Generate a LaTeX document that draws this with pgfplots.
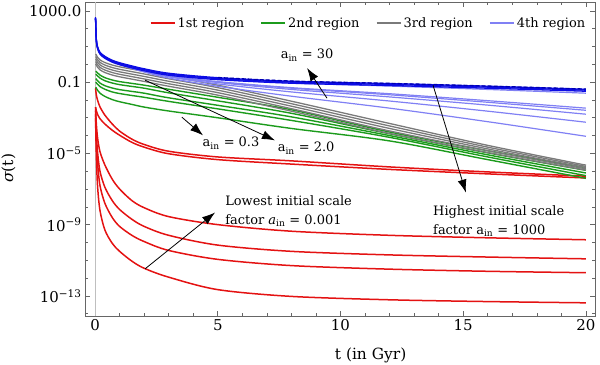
\documentclass[border=0pt]{standalone}
\usepackage{fontspec}
\setmainfont{DejaVu Serif}
\usepackage{pgfplots}
\pgfplotsset{compat=1.18}
\usetikzlibrary{arrows.meta}

\definecolor{cRed}{RGB}{228,18,18}
\definecolor{cGreen}{RGB}{28,155,28}
\definecolor{cGray}{RGB}{122,122,122}
\definecolor{cLBlue}{RGB}{128,128,244}
\definecolor{cBlue}{RGB}{12,12,228}

\begin{document}
\begin{tikzpicture}
\begin{axis}[
  name=ax, scale only axis, width=510bp, height=314bp,
  xmin=-0.41, xmax=20.37, ymin=-14.13, ymax=3.5,
  xtick={0,5,10,15,20}, xticklabels={0,5,10,15,20},
  minor xtick={1,2,3,4,6,7,8,9,11,12,13,14,16,17,18,19},
  ytick={-13,-9,-5,-1,3},
  yticklabels={10\textsuperscript{−13},10\textsuperscript{−9},10\textsuperscript{−5},0.1,1000.0},
  minor ytick={-14,-12,-11,-10,-8,-7,-6,-4,-3,-2,0,1,2},
  tick align=inside, major tick length=5bp, minor tick length=3bp,
  tick style={black!60, line width=0.6bp},
  axis line style={black!60, line width=0.8bp},
  tick label style={font=\fontsize{15}{15}\selectfont},
  xlabel={t (in Gyr)}, ylabel={\textit{σ}(t)},
  label style={font=\fontsize{15.5}{15.5}\selectfont},
  xlabel style={at={(rel axis cs:0.56,-0.124)}, anchor=center},
  ylabel style={at={(rel axis cs:-0.15,0.47)}, anchor=center},
  legend style={at={(0.985,0.957)}, anchor=north east, draw=none, fill=none,
    inner sep=0pt, font=\fontsize{13}{13}\selectfont,
    /tikz/every even column/.append style={column sep=14bp}},
  legend columns=4,
  legend image code/.code={\draw[#1,line width=2bp] (0bp,0bp) -- (24bp,0bp);},
  every axis plot/.append style={smooth, line join=round, forget plot},
]
% zero line
\addplot[black!25, line width=0.6bp, sharp plot] coordinates {(0,-14.13) (0,3.5)};

% 1st region
\addplot[cRed, line width=1.5bp] coordinates {(0.02,-1.34)(0.05,-1.7)(0.1,-2.0)(0.2,-2.39)(0.4,-2.85)(0.7,-3.35)(1,-3.75)(1.5,-4.2)(2,-4.5)(3,-4.88)(5,-5.2)(8,-5.42)(12,-5.76)(16,-6.04)(20,-6.28)};
\addplot[cRed, line width=1.5bp] coordinates {(0.02,-2.4)(0.05,-2.6)(0.1,-2.8)(0.2,-3.05)(0.4,-3.35)(0.7,-3.7)(1,-3.98)(1.5,-4.38)(2,-4.65)(3,-5.02)(5,-5.35)(8,-5.6)(12,-5.9)(16,-6.15)(20,-6.38)};
\addplot[cRed, line width=1.5bp] coordinates {(0.02,-2.4)(0.05,-3.3)(0.1,-4.1)(0.2,-4.9)(0.4,-5.65)(0.7,-6.45)(1,-7.0)(1.5,-7.65)(2,-8.05)(3,-8.55)(5,-9.0)(8,-9.37)(12,-9.6)(16,-9.74)(20,-9.85)};
\addplot[cRed, line width=1.5bp] coordinates {(0.02,-2.6)(0.05,-3.8)(0.1,-4.9)(0.2,-6.0)(0.4,-6.9)(0.7,-7.65)(1,-8.15)(1.5,-8.7)(2,-9.1)(3,-9.6)(5,-10.15)(8,-10.5)(12,-10.7)(16,-10.82)(20,-10.92)};
\addplot[cRed, line width=1.5bp] coordinates {(0.02,-2.8)(0.05,-4.2)(0.1,-5.5)(0.2,-6.8)(0.4,-7.8)(0.7,-8.6)(1,-9.1)(1.5,-9.6)(2,-9.95)(3,-10.45)(5,-10.95)(8,-11.3)(12,-11.5)(16,-11.62)(20,-11.7)};
\addplot[cRed, line width=1.5bp] coordinates {(0.02,-3.0)(0.05,-5.0)(0.1,-6.8)(0.2,-8.2)(0.4,-9.3)(0.7,-10.05)(1,-10.5)(1.5,-11.05)(2,-11.45)(3,-11.95)(5,-12.65)(8,-13.03)(12,-13.22)(16,-13.32)(20,-13.39)};

% 2nd region
\addplot[cGreen, line width=1.4bp] coordinates {(0.03,-0.38)(0.1,-0.48)(0.2,-0.6)(0.4,-0.75)(0.7,-0.88)(1,-0.97)(1.5,-1.07)(2,-1.17)(3,-1.4)(5,-1.85)(8,-2.55)(12,-3.8)(16,-4.85)(20,-5.8)};
\addplot[cGreen, line width=1.4bp] coordinates {(0.03,-0.55)(0.1,-0.65)(0.2,-0.77)(0.4,-0.92)(0.7,-1.05)(1,-1.14)(1.5,-1.24)(2,-1.34)(3,-1.6)(5,-2.05)(8,-2.75)(12,-3.9)(16,-4.97)(20,-5.95)};
\addplot[cGreen, line width=1.4bp] coordinates {(0.03,-0.8)(0.1,-0.92)(0.2,-1.05)(0.4,-1.2)(0.7,-1.33)(1,-1.42)(1.5,-1.52)(2,-1.62)(3,-1.88)(5,-2.3)(8,-2.95)(12,-4.0)(16,-5.08)(20,-6.1)};
\addplot[cGreen, line width=1.4bp] coordinates {(0.03,-1.0)(0.1,-1.12)(0.2,-1.25)(0.4,-1.4)(0.7,-1.55)(1,-1.64)(1.5,-1.75)(2,-1.85)(3,-2.08)(5,-2.5)(8,-3.15)(12,-4.1)(16,-5.2)(20,-6.25)};
\addplot[cGreen, line width=1.4bp] coordinates {(0.03,-1.28)(0.1,-1.45)(0.2,-1.62)(0.4,-1.8)(0.7,-1.98)(1,-2.1)(1.5,-2.25)(2,-2.4)(3,-2.62)(5,-3.0)(8,-3.6)(12,-4.3)(16,-5.35)(20,-6.4)};

% 3rd region
\addplot[cGray, line width=1.3bp] coordinates {(0.03,0.58)(0.1,0.40)(0.2,0.25)(0.4,0.10)(0.7,-0.04)(1,-0.14)(1.5,-0.27)(2,-0.40)(3,-0.67)(5,-1.17)(8,-2.07)(12,-3.32)(16,-4.55)(20,-5.66)};
\addplot[cGray, line width=1.3bp] coordinates {(0.03,0.44)(0.1,0.26)(0.2,0.11)(0.4,-0.04)(0.7,-0.18)(1,-0.28)(1.5,-0.41)(2,-0.54)(3,-0.81)(5,-1.31)(8,-2.21)(12,-3.46)(16,-4.65)(20,-5.73)};
\addplot[cGray, line width=1.3bp] coordinates {(0.03,0.30)(0.1,0.12)(0.2,-0.03)(0.4,-0.18)(0.7,-0.32)(1,-0.42)(1.5,-0.55)(2,-0.68)(3,-0.95)(5,-1.45)(8,-2.35)(12,-3.60)(16,-4.75)(20,-5.80)};
\addplot[cGray, line width=1.3bp] coordinates {(0.03,0.16)(0.1,-0.02)(0.2,-0.17)(0.4,-0.32)(0.7,-0.46)(1,-0.56)(1.5,-0.69)(2,-0.82)(3,-1.09)(5,-1.59)(8,-2.49)(12,-3.74)(16,-4.85)(20,-5.87)};
\addplot[cGray, line width=1.3bp] coordinates {(0.03,0.02)(0.1,-0.16)(0.2,-0.31)(0.4,-0.46)(0.7,-0.60)(1,-0.70)(1.5,-0.83)(2,-0.96)(3,-1.23)(5,-1.73)(8,-2.63)(12,-3.88)(16,-4.95)(20,-5.94)};

% 4th region
\addplot[cLBlue, line width=1.2bp] coordinates {(0.02,2.6)(0.05,1.4)(0.1,0.95)(0.2,0.63)(0.4,0.4)(0.7,0.18)(1,0.04)(1.5,-0.15)(2,-0.31)(3,-0.56)(5,-0.83)(8,-1.05)(12,-1.22)(16,-1.41)(20,-1.62)};
\addplot[cLBlue, line width=1.2bp] coordinates {(0.02,2.6)(0.05,1.4)(0.1,0.95)(0.2,0.63)(0.4,0.4)(0.7,0.18)(1,0.02)(1.5,-0.18)(2,-0.35)(3,-0.64)(5,-0.97)(8,-1.31)(12,-1.65)(16,-2.04)(20,-2.46)};
\addplot[cLBlue, line width=1.2bp] coordinates {(0.02,2.6)(0.05,1.4)(0.1,0.95)(0.2,0.63)(0.4,0.4)(0.7,0.18)(1,0.02)(1.5,-0.18)(2,-0.36)(3,-0.65)(5,-0.99)(8,-1.34)(12,-1.71)(16,-2.13)(20,-2.58)};
\addplot[cLBlue, line width=1.2bp] coordinates {(0.02,2.6)(0.05,1.4)(0.1,0.95)(0.2,0.63)(0.4,0.4)(0.7,0.18)(1,0.01)(1.5,-0.19)(2,-0.37)(3,-0.66)(5,-1.02)(8,-1.41)(12,-1.83)(16,-2.29)(20,-2.80)};
\addplot[cLBlue, line width=1.2bp] coordinates {(0.02,2.6)(0.05,1.4)(0.1,0.95)(0.2,0.63)(0.4,0.4)(0.7,0.18)(1,0.0)(1.5,-0.2)(2,-0.39)(3,-0.7)(5,-1.1)(8,-1.55)(12,-2.06)(16,-2.63)(20,-3.25)};
\addplot[cLBlue, line width=1.2bp] coordinates {(0.02,2.6)(0.05,1.4)(0.1,0.95)(0.2,0.63)(0.4,0.4)(0.7,0.18)(1,-0.01)(1.5,-0.23)(2,-0.43)(3,-0.77)(5,-1.23)(8,-1.79)(12,-2.46)(16,-3.22)(20,-4.04)};
\addplot[cBlue, line width=1.3bp] coordinates {(0.02,2.54)(0.05,1.34)(0.1,0.89)(0.2,0.57)(0.4,0.34)(0.7,0.12)(1,-0.02)(1.5,-0.2)(2,-0.36)(3,-0.61)(5,-0.86)(8,-1.06)(12,-1.19)(16,-1.34)(20,-1.51)};
\addplot[cBlue, line width=1.3bp] coordinates {(0.02,2.6)(0.05,1.4)(0.1,0.95)(0.2,0.63)(0.4,0.4)(0.7,0.18)(1,0.04)(1.5,-0.14)(2,-0.3)(3,-0.55)(5,-0.8)(8,-1.0)(12,-1.13)(16,-1.28)(20,-1.45)};
\addplot[cBlue, line width=1.3bp] coordinates {(0.02,2.65)(0.05,1.45)(0.1,1.0)(0.2,0.68)(0.4,0.45)(0.7,0.23)(1,0.09)(1.5,-0.09)(2,-0.25)(3,-0.5)(5,-0.75)(8,-0.95)(12,-1.08)(16,-1.23)(20,-1.4)};
\addplot[blue!70!black, line width=1.3bp, dash pattern=on 4bp off 2bp] coordinates {(5,-0.74)(8,-0.94)(12,-1.07)(16,-1.22)(20,-1.39)};

\addlegendimage{cRed}\addlegendentry{1st region}
\addlegendimage{cGreen}\addlegendentry{2nd region}
\addlegendimage{cGray}\addlegendentry{3rd region}
\addlegendimage{cLBlue}\addlegendentry{4th region}

% annotations
\begin{scope}[font=\fontsize{13}{19}\selectfont]
\node at (axis cs:8.64,0.52) {a\textsubscript{in} = 30};
\node at (axis cs:5.54,-4.44) {a\textsubscript{in} = 0.3};
\node at (axis cs:8.6,-4.72) {a\textsubscript{in} = 2.0};
\node[anchor=west, align=left, inner sep=0pt] at (axis cs:5.3,-8.23) {Lowest initial scale\\factor \textit{a}\textsubscript{in} = 0.001};
\node[anchor=west, align=left, inner sep=0pt] at (axis cs:13.77,-8.8) {Highest initial scale\\factor a\textsubscript{in} = 1000};
\end{scope}
\begin{scope}[-{Latex[length=13bp,width=9bp]}, line width=0.8bp]
\draw (axis cs:9.45,-1.9) -- (axis cs:8.64,-0.21);
\draw (axis cs:3.54,-2.97) -- (axis cs:4.4,-3.99);
\draw (axis cs:2.04,-0.89) -- (axis cs:7.33,-4.27);
\draw (axis cs:2.04,-11.48) -- (axis cs:4.89,-8.32);
\draw (axis cs:13.77,-1.17) -- (axis cs:15.11,-7.2);
\end{scope}
\end{axis}
\pgfresetboundingbox
\path ([xshift=-85bp,yshift=-49bp]ax.south west) rectangle ([xshift=5bp,yshift=2bp]ax.north east);
\end{tikzpicture}
\end{document}
